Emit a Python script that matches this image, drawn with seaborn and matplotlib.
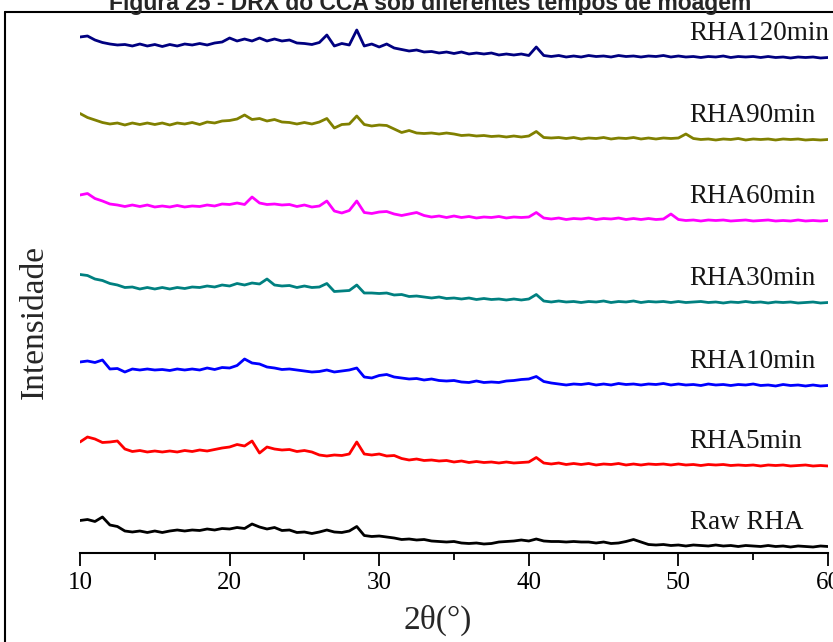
import numpy as np
import pandas as pd
import matplotlib
matplotlib.use("Agg")
import matplotlib.pyplot as plt
from matplotlib.lines import Line2D
import seaborn as sns

# ---- data (intensity in a.u., 0.5 deg sampling) ----
two_theta = np.arange(10, 60.01, 0.5)

samples = ["RHA120min", "RHA90min", "RHA60min", "RHA30min", "RHA10min", "RHA5min", "Raw RHA"]
colors = ["#000080", "#808000", "#ff00ff", "#008080", "#0000ff", "#ff0000", "#000000"]
offsets = [495, 413, 332, 250, 167, 87, 6]

i_120 = [21, 22, 18, 15.5, 14, 13, 13.5, 12, 14, 12, 13.5, 11.5, 13.5, 12, 14, 13, 14.5, 13, 15, 16,
         20, 17, 19, 17, 20, 17, 19, 17, 18, 15, 14.5, 13.5, 15.5, 23, 12, 14.5, 13, 28, 12, 14,
         11, 14, 10, 8.5, 7, 8, 6, 6.5, 5, 6, 4.5, 6, 4, 5, 4, 5, 3, 4, 3, 4,
         2.5, 11, 2.5, 1.5, 2.5, 1, 2, 1, 2.5, 1.5, 2, 1, 2.5, 1.5, 2, 1, 2, 1.5, 2.5, 1,
         2, 1, 1.5, 0.5, 1.5, 1, 2, 0.5, 1.5, 1, 1.5, 0.5, 1.5, 0.5, 1, 0, 1, 0.5, 1, 0, 0.5]
i_90 = [26.5, 22.5, 20, 17.5, 16, 17, 15, 17, 15.5, 17, 15.5, 17, 15, 17, 16, 17.5, 15.5, 18, 17, 19,
        19.5, 21, 25, 20.5, 21.5, 19, 20.5, 18, 17.5, 16, 17.5, 16, 18, 21.5, 12, 15.5, 16, 24, 15.5, 14,
        15, 14.5, 11, 7.5, 9.5, 7, 6.5, 7, 6, 7, 6, 4.5, 5, 4, 4.5, 3.5, 4, 3, 4, 3,
        4, 8.5, 2.5, 2, 2.5, 1.5, 2.5, 1, 2, 1.5, 2.5, 1, 2, 1.5, 2.5, 1, 2, 1, 2, 1.5,
        2, 6, 1.5, 0.5, 1, 0, 1, 0.5, 1.5, 0, 1, 0.5, 1, 0, 1, 0.5, 1, 0, 0.5, 0, 0.5]
i_60 = [26, 27.5, 22.5, 20, 17, 16, 14.5, 16, 14.5, 16, 14, 15, 14, 15.5, 14, 15, 14.5, 16, 15, 17,
        16.5, 18, 16.5, 24, 18, 16.5, 17, 16, 16.5, 14.5, 16, 14, 15, 20, 10, 8, 10.5, 20, 8.5, 7.5,
        9, 9.5, 7, 5.5, 7, 8.5, 5.5, 4, 5, 3.5, 5, 3.5, 4.5, 3, 4, 3.5, 4.5, 3, 4, 3.5,
        4, 8.5, 3, 2, 3, 1.5, 2.5, 2, 3, 1.5, 2.5, 2, 3, 1.5, 2.5, 1.5, 2.5, 1.5, 2, 7,
        1.5, 0.5, 1, 0, 1, 0.5, 1, 0, 0.5, 1, 0, 0.5, 1, 0, 0.5, 0, 1, 0, 0.5, 0, 0.5]
i_30 = [28.5, 27.5, 24, 22.5, 19.5, 18, 15.5, 16, 14, 15.5, 14, 15.5, 14, 15.5, 14.5, 16, 15.5, 17, 16, 18,
        17, 19.5, 18, 20, 19, 24, 18, 17, 17.5, 15.5, 17, 15.5, 16, 19.5, 11.5, 12, 12.5, 18, 10, 10,
        9.5, 10, 8, 8.5, 6.5, 7, 6, 5, 6, 4.5, 5, 4, 5, 3.5, 4.5, 3.5, 4, 3, 4, 3,
        4, 8.5, 2, 1, 2, 1, 1.5, 0.5, 1.5, 1, 2, 0.5, 1.5, 1, 2, 0.5, 1.5, 1, 1.5, 0.5,
        1.5, 0.5, 1, 1.5, 0.5, 1, 0, 1, 0.5, 1.5, 0.5, 1, 0, 1, 0.5, 1, 0, 0.5, 1, 0, 0.5]
i_10 = [24, 25, 23.5, 26, 17, 17.5, 14, 17, 16, 17, 16, 16.5, 15.5, 17, 16, 17, 16, 18, 16.5, 18.5,
        18, 20.5, 27, 23, 22, 19, 18, 16.5, 17, 16, 15, 14, 14.5, 16, 14, 15, 16, 18, 9, 8,
        10.5, 11.5, 9, 8, 7, 7.5, 6, 7, 5.5, 5, 5.5, 4, 3.5, 5, 3.5, 4, 3.5, 5, 5.5, 6.5,
        7, 9.5, 4.5, 3, 2, 1, 2, 1.5, 2.5, 1, 2, 1, 2.5, 1.5, 2, 1, 2, 1.5, 2.5, 1,
        2, 1, 1.5, 0.5, 2, 1, 1.5, 0.5, 1.5, 1, 2, 0.5, 1, 0, 1.5, 0.5, 1, 0, 1, 0, 0.5]
i_5 = [24, 29, 27, 23.5, 24, 25, 17, 14.5, 15.5, 14, 15, 14, 15, 14, 15.5, 14.5, 16, 15, 16.5, 18,
       19, 21.5, 20, 25, 13, 19, 17, 16, 16.5, 14.5, 15.5, 14, 11, 10, 11, 10.5, 12, 24, 12, 11,
       12, 10, 10.5, 7.5, 6, 7, 5.5, 6, 5, 5.5, 4, 5, 3.5, 4.5, 3.5, 4, 3, 4, 3, 3.5,
       4, 8.5, 3, 2, 3, 1.5, 2.5, 1.5, 2.5, 1, 2, 1.5, 2.5, 1, 2, 1, 2, 1.5, 2, 1,
       2, 1, 1.5, 0.5, 1.5, 1, 1.5, 0.5, 1, 0.5, 1, 0, 1, 0.5, 1, 0, 0.5, 1, 0, 0.5, 0]
i_raw = [26.5, 27.5, 25.5, 30, 22, 20.5, 16, 15, 16, 14.5, 16, 14.5, 16, 17, 16, 17, 16.5, 18, 17, 18.5,
         18, 19.5, 18.5, 23, 20, 18, 19.5, 16.5, 17, 14.5, 15, 13.5, 15, 17, 15, 14.5, 16, 20.5, 11.5, 10.5,
         11, 10, 9, 7.5, 8, 7, 7.5, 6, 5.5, 5, 5.5, 4, 3.5, 4, 3, 3.5, 5, 5.5, 6, 7,
         6, 8, 6, 5.5, 5.5, 5, 5.5, 5, 5, 4, 5, 3.5, 4, 5.5, 7.5, 5, 2.5, 2, 2.5, 1.5,
         2, 1, 2, 1.5, 1, 2, 1, 1.5, 0.5, 1.5, 1, 0.5, 1.5, 0.5, 1, 0, 1, 0.5, 0, 1, 0.5]

intensities = [i_120, i_90, i_60, i_30, i_10, i_5, i_raw]

x_ticks = [10, 20, 30, 40, 50, 60]
x_minor = [15, 25, 35, 45, 55]

# ---- build long-form table ----
frames = []
for name, vals, off in zip(samples, intensities, offsets):
    assert len(vals) == len(two_theta), name
    frames.append(pd.DataFrame({"two_theta": two_theta,
                                "intensity": np.asarray(vals, float) + off,
                                "sample": name}))
df = pd.concat(frames, ignore_index=True)

sns.set_theme(style="white")
plt.rcParams["font.family"] = ["Liberation Serif", "DejaVu Serif"]

W, H = 833, 642
fig = plt.figure(figsize=(W / 100, H / 100), dpi=100)
ax = fig.add_axes([80 / W, (H - 553) / H, 748 / W, 539 / H])

sns.lineplot(data=df, x="two_theta", y="intensity", hue="sample", hue_order=samples,
             palette=dict(zip(samples, colors)), estimator=None, sort=False,
             legend=False, linewidth=2.0, ax=ax)

for name, off in zip(samples, offsets):
    ax.text(50.75, off + 18, name, ha="left", va="baseline", fontsize=19.5, color="#151515")

ax.set_xlim(10, 60)
ax.set_ylim(0, 539)
ax.set_yticks([])
ax.set_xticks(x_ticks)
ax.set_xticks(x_minor, minor=True)
ax.set_xlabel("")
ax.set_ylabel("")
for s in ["left", "top", "right"]:
    ax.spines[s].set_visible(False)
ax.spines["bottom"].set_linewidth(1.5)
ax.spines["bottom"].set_color("black")
ax.tick_params(axis="x", which="major", direction="out", length=9, width=1.3,
               labelsize=18, pad=5, colors="black", bottom=True)
ax.tick_params(axis="x", which="minor", direction="out", length=5, width=1.3,
               colors="black", bottom=True)

fig.text(438 / W, 1 - 620 / H, "2θ(°)", ha="center", va="center", fontsize=24)
fig.text(35 / W, 1 - 322 / H, "Intensidade", ha="center", va="center", rotation=90, fontsize=24)

fig.text(430 / W, 1 - 10 / H, "Figura 25 - DRX do CCA sob diferentes tempos de moagem",
         ha="center", va="baseline", fontsize=16.5, fontweight="bold",
         family=["Liberation Sans", "DejaVu Sans"])

fig.add_artist(Line2D([5 / W, 5 / W], [0, 1 - 12 / H], transform=fig.transFigure,
                      color="black", lw=1.5))
fig.add_artist(Line2D([5 / W, 1], [1 - 12 / H, 1 - 12 / H], transform=fig.transFigure,
                      color="black", lw=1.5))

fig.savefig("out.png", dpi=100)
